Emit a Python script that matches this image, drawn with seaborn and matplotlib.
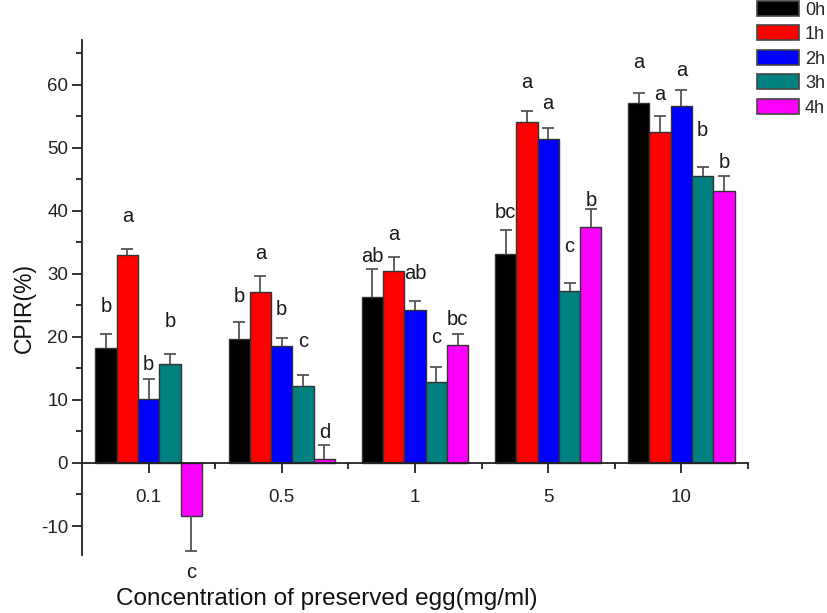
import matplotlib
matplotlib.use("Agg")
import matplotlib.pyplot as plt
from matplotlib.ticker import MultipleLocator, FixedLocator
from matplotlib.patches import Patch
import seaborn as sns
import pandas as pd

categories = ["0.1", "0.5", "1", "5", "10"]
hours = ["0h", "1h", "2h", "3h", "4h"]
colors = ["#000000", "#ff0000", "#0000ff", "#008080", "#ff00ff"]

cpir_0h = [18.2, 19.7, 26.3, 33.2, 57.1]
cpir_1h = [33.0, 27.2, 30.4, 54.1, 52.5]
cpir_2h = [10.1, 18.6, 24.2, 51.4, 56.7]
cpir_3h = [15.7, 12.2, 12.9, 27.3, 45.6]
cpir_4h = [-8.4, 0.6, 18.7, 37.4, 43.2]

err_0h = [2.3, 2.6, 4.4, 3.7, 1.6]
err_1h = [1.0, 2.5, 2.2, 1.8, 2.6]
err_2h = [3.3, 1.2, 1.5, 1.7, 2.5]
err_3h = [1.6, 1.7, 2.4, 1.3, 1.3]
err_4h = [5.6, 2.2, 1.8, 2.9, 2.4]

letters_0h = ["b", "b", "ab", "bc", "a"]
letters_1h = ["a", "a", "a", "a", "a"]
letters_2h = ["b", "b", "ab", "a", "a"]
letters_3h = ["b", "c", "c", "c", "b"]
letters_4h = ["c", "d", "bc", "b", "b"]

letter_y_0h = [24.9, 26.4, 32.7, 39.7, 63.5]
letter_y_1h = [39.1, 33.3, 36.2, 60.3, 58.5]
letter_y_2h = [15.7, 24.4, 30.0, 57.0, 62.2]
letter_y_3h = [22.5, 19.3, 19.9, 34.3, 52.7]
letter_y_4h = [-17.3, 4.9, 22.8, 41.6, 47.6]

values = [cpir_0h, cpir_1h, cpir_2h, cpir_3h, cpir_4h]
errors = [err_0h, err_1h, err_2h, err_3h, err_4h]
letters = [letters_0h, letters_1h, letters_2h, letters_3h, letters_4h]
letter_ys = [letter_y_0h, letter_y_1h, letter_y_2h, letter_y_3h, letter_y_4h]

rows = []
for h, vals in zip(hours, values):
    for c, v in zip(categories, vals):
        rows.append({"conc": c, "hour": h, "cpir": v})
df = pd.DataFrame(rows)

sns.set_style("ticks")
plt.rcParams["font.family"] = ["Liberation Sans", "DejaVu Sans"]
plt.rcParams["axes.unicode_minus"] = False

fig = plt.figure(figsize=(8.27, 6.13), dpi=100)
ax = fig.add_axes([82 / 827, 1 - 555 / 613, 666 / 827, 515 / 613])

sns.barplot(data=df, x="conc", y="cpir", hue="hour", order=categories,
            hue_order=hours, palette=colors, errorbar=None, width=0.8,
            edgecolor="#333333", linewidth=1.0, saturation=1, ax=ax,
            legend=False)

err_color = "#555555"
for cont, errs, labs, lys in zip(ax.containers, errors, letters, letter_ys):
    for bar, e, lab, ly in zip(cont, errs, labs, lys):
        xc = bar.get_x() + bar.get_width() / 2
        h = bar.get_height()
        top = h + e if h >= 0 else h - e
        ax.vlines(xc, h, top, color=err_color, lw=1.3, zorder=3)
        ax.plot([xc], [top], marker="_", ms=9, mew=1.3, color=err_color, zorder=3)
        ax.text(xc, ly, lab, ha="center", va="center", fontsize=14.5, color="#1a1a1a")

ax.set_xlim(-0.5, 4.5)
ax.set_ylim(-14.6, 67.1)

for s in ["top", "right"]:
    ax.spines[s].set_visible(False)
ax.spines["bottom"].set_position(("data", 0))
for s in ["left", "bottom"]:
    ax.spines[s].set_linewidth(1.3)
    ax.spines[s].set_color("#222222")

ax.yaxis.set_major_locator(MultipleLocator(10))
ax.yaxis.set_minor_locator(MultipleLocator(5))
ax.xaxis.set_minor_locator(FixedLocator([0.5, 1.5, 2.5, 3.5, 4.5]))
ax.tick_params(axis="both", which="major", direction="out", length=7, width=1.3,
               color="#222222", labelsize=13.5, labelcolor="#222222")
ax.tick_params(axis="both", which="minor", direction="out", length=4, width=1.3,
               color="#222222")
ax.tick_params(axis="x", which="major", pad=12)
ax.tick_params(axis="y", which="major", pad=3)

ax.set_xlabel("Concentration of preserved egg(mg/ml)", fontsize=17.5, color="#111111")
ax.xaxis.set_label_coords(0.368, -0.064)
ax.set_ylabel("CPIR(%)", fontsize=16.5, color="#111111")
ax.yaxis.set_label_coords(-0.07, 0.48)

handles = [Patch(facecolor=c, edgecolor="#444444", linewidth=1.2) for c in colors]
fig.legend(handles, hours, loc="upper left", bbox_to_anchor=(757 / 827, 1 - 1 / 613),
           frameon=False, fontsize=13, handlelength=2.35, handleheight=0.88,
           labelspacing=0.38, handletextpad=0.3, borderpad=0, borderaxespad=0)

fig.savefig("out.png", dpi=100, facecolor="white")
